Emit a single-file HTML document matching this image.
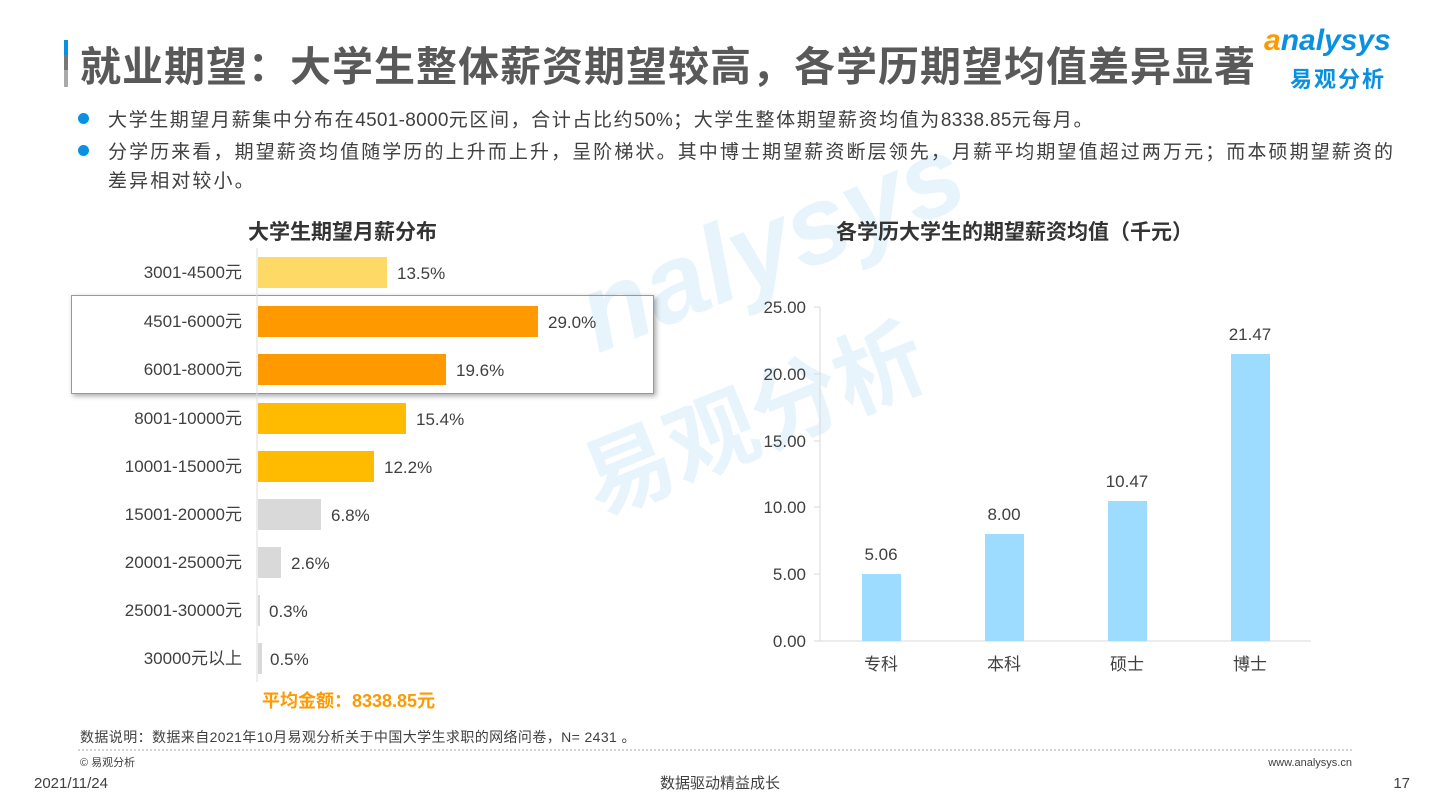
<!DOCTYPE html><html><head><meta charset="utf-8"><style>
body{margin:0;width:1440px;height:810px;background:#fff;position:relative;overflow:hidden;font-family:"Liberation Sans","Noto Sans CJK SC",sans-serif;color:#404040}
.a{position:absolute;white-space:nowrap}
</style></head><body>
<div class="a" style="left:64px;top:40px;width:4px;height:15px;background:#0a90e0"></div>
<div class="a" style="left:64px;top:55px;width:4px;height:15px;background:#777"></div>
<div class="a" style="left:64px;top:70px;width:4px;height:17px;background:#aaa"></div>
<div class="a" style="left:80px;top:42px;font-size:41px;line-height:50px;font-weight:bold;color:#595959;letter-spacing:1px">就业期望：大学生整体薪资期望较高，各学历期望均值差异显著</div>
<div class="a" style="left:1264px;top:24px;font-size:30px;font-style:italic;color:#0a90e0;font-weight:bold"><span style="color:#f90">a</span>nalysys</div>
<div class="a" style="left:1290px;top:62px;font-size:22px;color:#0a90e0;font-weight:bold;letter-spacing:2px">易观分析</div>
<div class="a" style="left:78px;top:113px;width:11px;height:11px;border-radius:50%;background:#0a90e0"></div>
<div class="a" style="left:78px;top:145px;width:11px;height:11px;border-radius:50%;background:#0a90e0"></div>
<div class="a" style="left:108px;top:105px;font-size:19px;letter-spacing:1.6px">大学生期望月薪集中分布在<span style="letter-spacing:0.3px">4501-8000</span>元区间，合计占比约<span style="letter-spacing:0.3px">50%</span>；大学生整体期望薪资均值为<span style="letter-spacing:0.3px">8338.85</span>元每月。</div>
<div class="a" style="left:108px;top:137px;font-size:19px;letter-spacing:2.1px">分学历来看，期望薪资均值随学历的上升而上升，呈阶梯状。其中博士期望薪资断层领先，月薪平均期望值超过两万元；而本硕期望薪资的</div>
<div class="a" style="left:108px;top:166px;font-size:19px;letter-spacing:2.1px">差异相对较小。</div>
<div class="a" style="left:560px;top:260px;font-size:110px;font-style:italic;font-weight:bold;color:#0a90e0;opacity:0.09;transform:rotate(-22deg);transform-origin:left top">nalysys</div>
<div class="a" style="left:560px;top:420px;font-size:90px;font-weight:bold;color:#0a90e0;opacity:0.09;transform:rotate(-22deg);transform-origin:left top">易观分析</div>
<div class="a" style="left:248px;top:216px;font-size:21px;font-weight:bold;color:#333">大学生期望月薪分布</div>
<div class="a" style="left:836px;top:216px;font-size:21px;font-weight:bold;color:#333">各学历大学生的期望薪资均值（千元）</div>
<div class="a" style="left:71px;top:295px;width:581px;height:97px;border:1px solid #999;box-shadow:2px 2px 5px rgba(0,0,0,0.35)"></div>
<svg class="a" style="left:0;top:0" width="1440" height="810" font-family="Liberation Sans, Noto Sans CJK SC, sans-serif">
<line x1="257" y1="248" x2="257" y2="682" stroke="#ddd"/>
<g font-size="17" fill="#404040">
<g text-anchor="end">
<text x="242" y="278">3001-4500元</text><text x="242" y="327">4501-6000元</text><text x="242" y="375">6001-8000元</text><text x="242" y="424">8001-10000元</text><text x="242" y="472">10001-15000元</text><text x="242" y="520">15001-20000元</text><text x="242" y="568">20001-25000元</text><text x="242" y="616">25001-30000元</text><text x="242" y="664">30000元以上</text>
</g>
<rect x="258" y="257" width="129" height="31" fill="#FFD966"/><text x="397" y="279">13.5%</text>
<rect x="258" y="306" width="280" height="31" fill="#FF9900"/><text x="548" y="328">29.0%</text>
<rect x="258" y="354" width="188" height="31" fill="#FF9900"/><text x="456" y="376">19.6%</text>
<rect x="258" y="403" width="148" height="31" fill="#FFBB00"/><text x="416" y="425">15.4%</text>
<rect x="258" y="451" width="116" height="31" fill="#FFBB00"/><text x="384" y="473">12.2%</text>
<rect x="258" y="499" width="63" height="31" fill="#D9D9D9"/><text x="331" y="521">6.8%</text>
<rect x="258" y="547" width="23" height="31" fill="#D9D9D9"/><text x="291" y="569">2.6%</text>
<rect x="258" y="595" width="2" height="31" fill="#D9D9D9"/><text x="269" y="617">0.3%</text>
<rect x="258" y="643" width="4" height="31" fill="#D9D9D9"/><text x="270" y="665">0.5%</text>
</g>
<text x="262" y="707" font-size="18" font-weight="bold" fill="#FF9900">平均金额：8338.85元</text>
<g stroke="#d9d9d9"><line x1="820" y1="307" x2="820" y2="641"/><line x1="820" y1="641" x2="1311" y2="641"/>
<line x1="814" y1="307" x2="820" y2="307"/><line x1="814" y1="374" x2="820" y2="374"/><line x1="814" y1="441" x2="820" y2="441"/><line x1="814" y1="507" x2="820" y2="507"/><line x1="814" y1="574" x2="820" y2="574"/><line x1="814" y1="641" x2="820" y2="641"/></g>
<g font-size="17" fill="#404040" text-anchor="end">
<text x="806" y="313">25.00</text><text x="806" y="380">20.00</text><text x="806" y="447">15.00</text><text x="806" y="513">10.00</text><text x="806" y="580">5.00</text><text x="806" y="647">0.00</text></g>
<g fill="#9DDCFF"><rect x="862" y="574" width="39" height="67"/><rect x="985" y="534" width="39" height="107"/><rect x="1108" y="501" width="39" height="140"/><rect x="1231" y="354" width="39" height="287"/></g>
<g font-size="17" fill="#404040" text-anchor="middle">
<text x="881" y="560">5.06</text><text x="1004" y="520">8.00</text><text x="1127" y="487">10.47</text><text x="1250" y="340">21.47</text>
<text x="881" y="670">专科</text><text x="1004" y="670">本科</text><text x="1127" y="670">硕士</text><text x="1250" y="670">博士</text></g>
<text x="80" y="742" font-size="14" fill="#404040" letter-spacing="0.4">数据说明：数据来自2021年10月易观分析关于中国大学生求职的网络问卷，N= 2431 。</text>
<line x1="78" y1="750" x2="1352" y2="750" stroke="#aaa" stroke-dasharray="2,2"/>
<text x="80" y="766" font-size="11" fill="#404040">© 易观分析</text>
<text x="1352" y="766" font-size="11" fill="#404040" text-anchor="end">www.analysys.cn</text>
<text x="34" y="788" font-size="15" fill="#404040">2021/11/24</text>
<text x="720" y="788" font-size="15" fill="#404040" text-anchor="middle">数据驱动精益成长</text>
<text x="1410" y="788" font-size="15" fill="#404040" text-anchor="end">17</text>
</svg>
</body></html>
